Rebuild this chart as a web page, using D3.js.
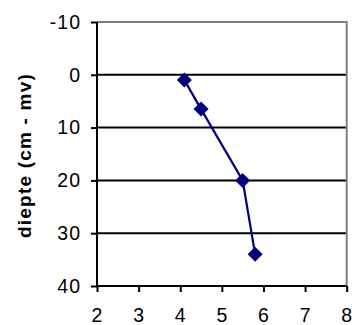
<!DOCTYPE html>
<html>
<head>
<meta charset="utf-8">
<script src="https://cdn.jsdelivr.net/npm/d3@7"></script>
<style>
  body { margin: 0; background: #fff; }
  svg { display: block; font-family: Arial, "Liberation Sans", sans-serif; }
</style>
</head>
<body>
<div id="chart"></div>
<script>
// measured values (x = value, y = depth in cm below surface)
const xValues = [4.1, 4.5, 5.5, 5.8];
const depths = [1, 6.5, 20, 34];
const xTicks = [2, 3, 4, 5, 6, 7, 8];
const yTicks = [-10, 0, 10, 20, 30, 40];
const yLabel = 'diepte (cm - mv)';

const width = 352, height = 325;
const margin = { top: 22, right: 5.3, bottom: 39, left: 97 };
const innerW = width - margin.left - margin.right;
const innerH = height - margin.top - margin.bottom;

const svg = d3.select('#chart').append('svg')
  .attr('width', width)
  .attr('height', height);

const chart = svg.append('g')
  .attr('transform', `translate(${margin.left},${margin.top})`);

const x = d3.scaleLinear().domain([2, 8]).range([0, innerW]);
const y = d3.scaleLinear().domain([-10, 40]).range([0, innerH]);

// gridlines (skip the ends: top border is grey, bottom is the axis)
chart.selectAll('.grid')
  .data(yTicks.filter(d => d > -10 && d < 40))
  .join('line')
  .attr('class', 'grid')
  .attr('x1', 0).attr('x2', innerW)
  .attr('y1', d => y(d)).attr('y2', d => y(d))
  .attr('stroke', '#000').attr('stroke-width', 2);

// grey frame on top and right
chart.append('path')
  .attr('d', `M0,${y(-10)}H${innerW}V${innerH}`)
  .attr('fill', 'none')
  .attr('stroke', '#808080')
  .attr('stroke-width', 2);

// axes
const xAxis = chart.append('g')
  .attr('transform', `translate(0,${innerH})`)
  .call(d3.axisBottom(x).tickValues(xTicks).tickSize(6).tickPadding(16).tickFormat(d => String(d)));

const yAxis = chart.append('g')
  .call(d3.axisLeft(y).tickValues(yTicks).tickSize(6).tickPadding(10).tickFormat(d => String(d)));

[xAxis, yAxis].forEach(a => {
  a.select('.domain').attr('stroke', '#000').attr('stroke-width', 2);
  a.selectAll('.tick line').attr('stroke', '#000').attr('stroke-width', 2);
  a.selectAll('.tick text')
    .attr('fill', '#000')
    .style('font-size', '19.5px')
    .style('letter-spacing', '1px')
    .style('font-family', 'Arial, "Liberation Sans", sans-serif');
});
yAxis.select('.domain').attr('d', `M0,0V${innerH}`);
xAxis.select('.domain').attr('d', `M0,0H${innerW}`);

// series line
const pts = xValues.map((v, i) => ({ x: v, y: depths[i] }));
chart.append('path')
  .datum(pts)
  .attr('fill', 'none')
  .attr('stroke', '#000080')
  .attr('stroke-width', 2.2)
  .attr('d', d3.line().x(d => x(d.x)).y(d => y(d.y)));

// diamond markers
chart.selectAll('.marker')
  .data(pts)
  .join('path')
  .attr('class', 'marker')
  .attr('transform', d => `translate(${x(d.x)},${y(d.y)})`)
  .attr('d', 'M0,-7.5L7.5,0L0,7.5L-7.5,0Z')
  .attr('fill', '#000080');

// y axis title
svg.append('text')
  .attr('transform', `translate(31,${margin.top + y(15) + 1.5}) rotate(-90)`)
  .attr('text-anchor', 'middle')
  .style('font-size', '19px')
  .style('font-weight', 'bold')
  .style('letter-spacing', '1.2px')
  .text(yLabel);
</script>
</body>
</html>
